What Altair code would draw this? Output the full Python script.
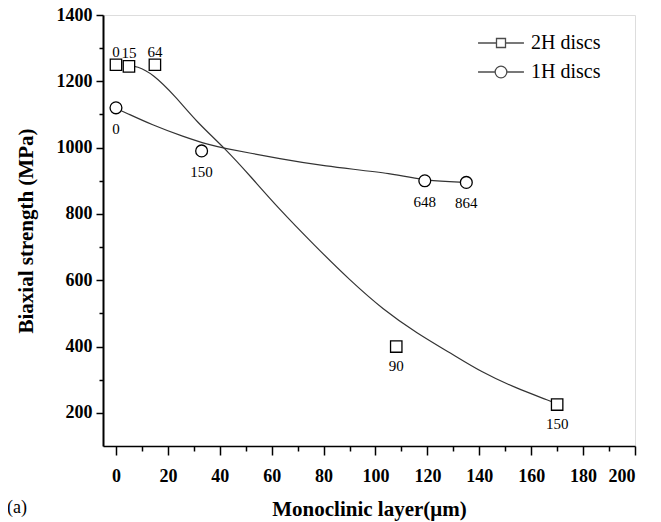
import altair as alt
import pandas as pd

# ---- data ----
series_names = ["2H discs", "1H discs"]

# 2H discs (squares)
h2_x = [0, 5, 15, 108, 170]
h2_y = [1250, 1245, 1250, 400, 225]
h2_lab = ["0", "15", "64", "90", "150"]

# 1H discs (circles)
h1_x = [0, 33, 119, 135]
h1_y = [1120, 990, 900, 895]
h1_lab = ["0", "150", "648", "864"]

# fitted curves
fit2_x = [5, 8, 14, 23, 31, 42, 52, 62, 77, 90, 103, 116, 129, 141, 154, 168, 170]
fit2_y = [1247, 1246, 1224, 1154, 1078, 998, 912, 822, 701, 601, 511, 440, 380, 322, 275, 234, 226]
fit1_x = [0, 3, 14, 26, 36, 42, 52, 62, 79, 108, 119, 135]
fit1_y = [1118, 1108, 1068, 1033, 1008, 998, 983, 968, 945, 921, 900, 895]

x_ticks = list(range(0, 201, 10))
y_ticks = list(range(200, 1401, 100))

df_h2 = pd.DataFrame({"x": h2_x, "y": h2_y, "lab": h2_lab})
df_h1 = pd.DataFrame({"x": h1_x, "y": h1_y, "lab": h1_lab})
df_f2 = pd.DataFrame({"x": fit2_x, "y": fit2_y})
df_f1 = pd.DataFrame({"x": fit1_x, "y": fit1_y})
df_leg = pd.DataFrame({"series": series_names})

SERIF = "Liberation Serif"

x_axis = alt.Axis(
    values=x_ticks,
    labelExpr="datum.value % 20 === 0 ? '' + datum.value : ''",
    tickSize={"condition": {"test": "datum.value % 20 === 0", "value": 9}, "value": 5},
    grid=False,
    labelFont=SERIF, labelFontSize=18, labelFontWeight="bold", labelColor="black",
    labelPadding=12,
    titleFont=SERIF, titleFontSize=21, titleFontWeight="bold", titleColor="black",
    titlePadding=13,
    domainColor="black", domainWidth=1.5, tickColor="black", tickWidth=1.5,
)
y_axis = alt.Axis(
    values=y_ticks,
    labelExpr="datum.value % 200 === 0 ? '' + datum.value : ''",
    tickSize={"condition": {"test": "datum.value % 200 === 0", "value": 7}, "value": 4},
    grid=False,
    labelFont=SERIF, labelFontSize=18, labelFontWeight="bold", labelColor="black",
    labelPadding=4,
    titleFont=SERIF, titleFontSize=21, titleFontWeight="bold", titleColor="black",
    titlePadding=20,
    domainColor="black", domainWidth=2, tickColor="black", tickWidth=1.5,
)


def enc():
    return dict(
        x=alt.X("x:Q", scale=alt.Scale(domain=[-5, 200], nice=False, zero=False),
                axis=x_axis, title="Monoclinic layer(μm)"),
        y=alt.Y("y:Q", scale=alt.Scale(domain=[100, 1400], nice=False, zero=False),
                axis=y_axis, title="Biaxial strength (MPa)"),
    )


line2 = alt.Chart(df_f2).mark_line(interpolate="basis", color="#333333", strokeWidth=1.2).encode(**enc())
line1 = alt.Chart(df_f1).mark_line(interpolate="basis", color="#333333", strokeWidth=1.2).encode(**enc())

pts2 = alt.Chart(df_h2).mark_point(shape="square", size=130, filled=True, fill="white",
                                   stroke="black", strokeWidth=1.3, opacity=1).encode(**enc())
pts1 = alt.Chart(df_h1).mark_point(shape="circle", size=140, filled=True, fill="white",
                                   stroke="black", strokeWidth=1.3, opacity=1).encode(**enc())

txt_kw = dict(font=SERIF, fontSize=15, color="black", baseline="middle", align="center")
lab2_top = alt.Chart(df_h2).transform_filter("datum.y > 1100").mark_text(dy=-13, **txt_kw).encode(text="lab:N", **enc())
lab2_bot = alt.Chart(df_h2).transform_filter("datum.y <= 1100").mark_text(dy=19, **txt_kw).encode(text="lab:N", **enc())
lab1 = alt.Chart(df_h1).mark_text(dy=21, **txt_kw).encode(text="lab:N", **enc())

# legend symbols: line - marker - line
sq_path = "M-5.1,0H-1M1,0H5.1M-1,-1H1V1H-1Z"
ci_path = "M-5.1,0H-1.3M1.3,0H5.1M1.3,0A1.3,1.3,0,1,1,-1.3,0A1.3,1.3,0,1,1,1.3,0Z"

legend_layer = alt.Chart(df_leg).transform_filter("false").mark_point(
    filled=False, color="black", strokeWidth=1.3
).encode(
    shape=alt.Shape(
        "series:N",
        scale=alt.Scale(domain=series_names, range=[sq_path, ci_path]),
        legend=alt.Legend(
            title=None, orient="none", legendX=388, legendY=18,
            padding=0, offset=0,
            labelFont=SERIF, labelFontSize=20, labelColor="black",
            symbolSize=81, symbolStrokeWidth=1.3, symbolStrokeColor="black",
            symbolFillColor="transparent", labelOffset=20, rowPadding=9,
        ),
    )
)

chart = alt.layer(
    line2, line1, pts2, pts1, lab2_top, lab2_bot, lab1, legend_layer
).properties(
    width=532, height=431,
    autosize=alt.AutoSizeParams(type="none"),
    padding={"left": 95, "top": 7, "right": 18, "bottom": 75},
    title=alt.TitleParams("(a)", orient="bottom", anchor="start", frame="group",
                          font=SERIF, fontSize=18, fontWeight="normal", color="black",
                          dx=-96, offset=-20),
).configure_view(
    stroke="black", strokeWidth=1.5
).configure(background="white")

chart.save("out.html", embed_options={"renderer": "svg", "actions": False})
